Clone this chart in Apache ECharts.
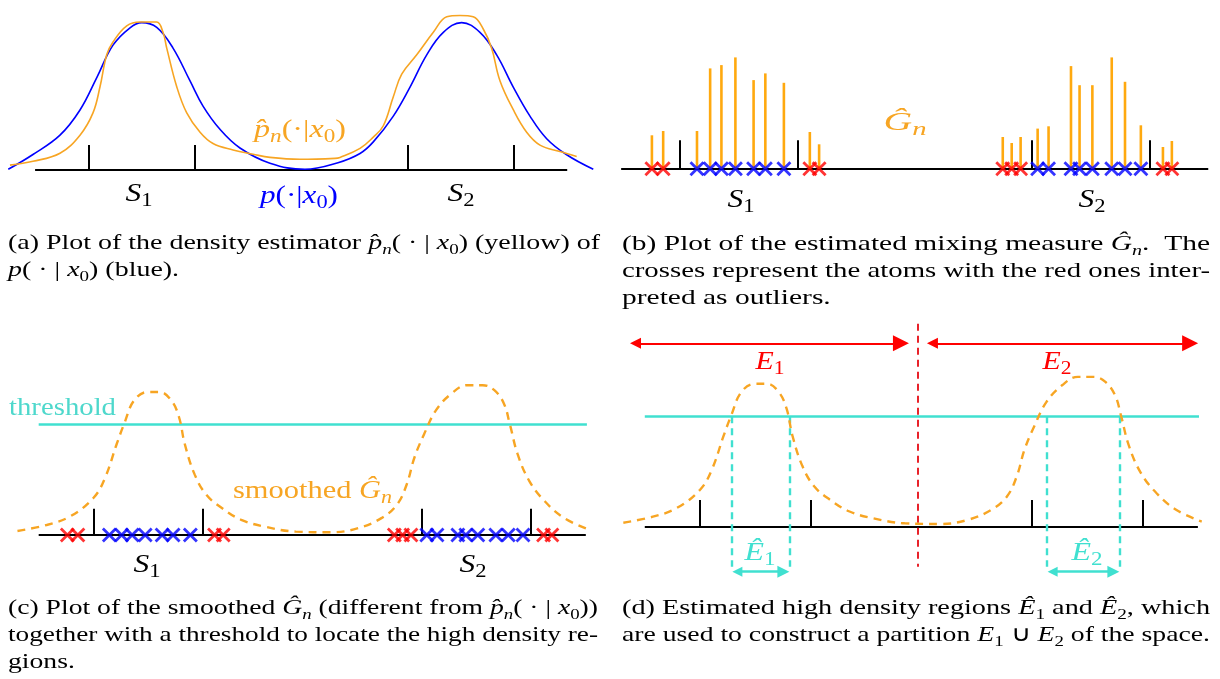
<!DOCTYPE html>
<html><head><meta charset="utf-8">
<script src="https://cdn.jsdelivr.net/npm/echarts@6/dist/echarts.min.js"></script>
<style>html,body{margin:0;padding:0;background:#fff}#c{width:1220px;height:679px}</style>
</head><body><div id="c"></div>
<script>
// ---------------- data (positions u on the line, heights h) ----------------
const tickPositions = [1, 2, 4, 5];
const axisRange = [0.5, 5.5];
// panel (a): true conditional density (blue)
const trueDensity = [[0.248,0],[0.48,15.3],[0.734,35.3],[0.922,61.3],[1.082,95.3],[1.232,128.3],[1.392,146.3],[1.502,151.6],[1.643,146.6],[1.796,125.3],[1.956,91.3],[2.078,65.3],[2.237,41.3],[2.425,22],[2.707,6.3],[3.036,0],[3.346,6.8],[3.553,16.3],[3.678,28.3],[3.866,55],[4.023,85],[4.18,118.3],[4.336,141.6],[4.508,151.6],[4.68,141.6],[4.837,118.3],[4.993,85],[5.15,55],[5.307,31.6],[5.495,15],[5.745,0]];
// panel (a): density estimator (yellow)
const estDensity = [[0.264,4.3],[0.48,8.3],[0.734,16.6],[0.922,35.3],[1.044,58.3],[1.11,85.3],[1.173,118.3],[1.232,131.6],[1.361,148.3],[1.486,152.3],[1.643,152.3],[1.702,141.6],[1.737,125.3],[1.831,85.3],[1.925,58.3],[2.05,38.3],[2.172,26.6],[2.36,20],[2.548,15.6],[2.707,12.3],[2.989,10.3],[3.318,11.3],[3.365,12.3],[3.553,21.6],[3.678,33.3],[3.772,45],[3.866,75],[3.945,98.3],[4.086,118.3],[4.242,141.6],[4.368,157.6],[4.492,159],[4.617,157.6],[4.711,145],[4.79,125],[4.868,91.6],[4.993,61.6],[5.119,38.3],[5.244,25],[5.432,18.3],[5.589,13.3]];
// panel (b)/(c): atoms of the mixing measure
const atomPositions = [0.762,0.858,1.146,1.258,1.354,1.473,1.628,1.728,1.886,2.107,2.186,3.75,3.826,3.902,4.047,4.14,4.331,4.404,4.513,4.678,4.791,4.926,5.114,5.19];
const atomWeights   = [33.5,37.8,37.8,100.4,103.7,111.4,88.7,95.4,86,36.8,24.5,31.8,25.8,31.8,40.2,42.5,102.7,83.6,83.6,111.4,87,43.5,21.8,27.8];
const atomOutlier   = [1,1,0,0,0,0,0,0,0,1,1,1,1,1,0,0,0,0,0,0,0,0,1,1];
// panel (c)/(d): smoothed mixing measure
const smoothedG = [[0.306,4],[0.573,10],[0.786,18.5],[1.0,37],[1.106,57],[1.213,91],[1.284,112],[1.373,134.7],[1.498,143],[1.604,143],[1.711,134.7],[1.782,118],[1.835,91],[1.925,60.6],[2.031,40.4],[2.174,27],[2.351,15.2],[2.565,8.4],[2.849,3.4],[3.169,2.7],[3.419,6.8],[3.632,16.9],[3.774,30.3],[3.863,50.5],[3.934,77.5],[4.023,101],[4.13,124.6],[4.272,141.4],[4.415,149.8],[4.557,149.8],[4.664,144.8],[4.752,131.3],[4.805,111.1],[4.877,80.8],[4.984,53.9],[5.125,33.7],[5.303,16.9],[5.535,5.1]];
const thresholdLevel = 110.5;
const thresholdRange = [0.5, 5.51];
// panel (d)
const highRegions = [[1.283,1.807],[4.133,4.79]];
const partitionSplit = 2.97;
const partitions = [[0.344,2.888],[3.028,5.502]];

// ---------------- layout ----------------
const C = { black:'#000000', blue:'#0000FF', orange:'#F7A523', red:'#FF0000', red2:'#E8222A', teal:'#40E0D0' };
const panels = [
  {u1:88.3,  u5:514,    base:168.3, umin:0.2, umax:5.8, ymin:-30, ymax:175, tick:25},
  {u1:680.3, u5:1153,   base:168.8, umin:0.4, umax:5.6, ymin:-30, ymax:125, tick:28.5},
  {u1:93.4,  u5:531.1,  base:535,   umin:0.2, umax:5.7, ymin:-30, ymax:160, tick:26.3},
  {u1:700.2, u5:1143.2, base:526.7, umin:0.2, umax:5.7, ymin:-60, ymax:215, tick:26.7}
];
const grids=[], xAxes=[], yAxes=[];
panels.forEach(p=>{
  p.s=(p.u5-p.u1)/4;
  grids.push({left:p.u1-(1-p.umin)*p.s, width:(p.umax-p.umin)*p.s, top:p.base-p.ymax, height:p.ymax-p.ymin, containLabel:false});
  xAxes.push({type:'value', min:p.umin, max:p.umax, show:false, gridIndex:grids.length-1});
  yAxes.push({type:'value', min:p.ymin, max:p.ymax, show:false, gridIndex:grids.length-1});
});
const series=[];
function segs(i, list, style, extra){
  series.push(Object.assign({type:'lines', coordinateSystem:'cartesian2d', xAxisIndex:i, yAxisIndex:i, silent:true,
    data:list.map(c=>({coords:c})), lineStyle:Object.assign({opacity:1},style), symbol:'none', animation:false}, extra||{}));
}
function axisLine(i){
  segs(i, [[[axisRange[0],0],[axisRange[1],0]]], {color:C.black,width:2}, {z:3});
  segs(i, tickPositions.map(t=>[[t,0],[t,panels[i].tick]]), {color:C.black,width:2}, {z:3});
}
const CROSS='path://M0,0L10,10M10,0L0,10';
function crosses(i){
  const red=[], blue=[];
  atomPositions.forEach((u,k)=>(atomOutlier[k]?red:blue).push([u,0]));
  [[red,C.red],[blue,C.blue]].forEach(([d,col])=>series.push({type:'scatter', xAxisIndex:i, yAxisIndex:i, data:d, symbol:CROSS, symbolSize:13,
    itemStyle:{color:'rgba(0,0,0,0)', borderColor:col, borderWidth:2.8}, silent:true, z:5, clip:false}));
}
// (a)
axisLine(0);
series.push({type:'line', xAxisIndex:0, yAxisIndex:0, data:trueDensity, smooth:0.4, showSymbol:false, lineStyle:{color:C.blue,width:1.6}, z:4, silent:true});
series.push({type:'line', xAxisIndex:0, yAxisIndex:0, data:estDensity, smooth:0.4, showSymbol:false, lineStyle:{color:C.orange,width:1.6}, z:4, silent:true});
// (b)
axisLine(1);
series.push({type:'bar', xAxisIndex:1, yAxisIndex:1, data:atomPositions.map((u,k)=>[u,atomWeights[k]]), barWidth:2.6, itemStyle:{color:'#FFA90F'}, z:4, silent:true});
crosses(1);
// (c)
axisLine(2);
segs(2, [[[thresholdRange[0],thresholdLevel],[thresholdRange[1],thresholdLevel]]], {color:C.teal,width:2.6}, {z:3});
series.push({type:'line', xAxisIndex:2, yAxisIndex:2, data:smoothedG, smooth:0.4, showSymbol:false, lineStyle:{color:C.orange,width:2.4,type:[8,6]}, z:4, silent:true});
crosses(2);
// (d)
axisLine(3);
segs(3, [[[thresholdRange[0],thresholdLevel],[thresholdRange[1],thresholdLevel]]], {color:C.teal,width:2.6}, {z:3});
series.push({type:'line', xAxisIndex:3, yAxisIndex:3, data:smoothedG, smooth:0.4, showSymbol:false, lineStyle:{color:C.orange,width:2.4,type:[8,6]}, z:4, silent:true});
segs(3, highRegions.flat().map(u=>[[u,thresholdLevel],[u,-40]]), {color:C.teal,width:2.4,type:[7,5]}, {z:3});
segs(3, [[[partitionSplit,203],[partitionSplit,-40]]], {color:C.red2,width:2,type:[7,5]}, {z:3});
const pd=panels[3];
const inR=8/pd.s, inT=6/pd.s;
segs(3, partitions.map(([a,b])=>[[a+inR,183.4],[b-inR,183.4]]), {color:C.red,width:2}, {z:4, symbol:['triangle','triangle'], symbolSize:[11,16]});
segs(3, highRegions.map(([a,b])=>[[a+inT,-45],[b-inT,-45]]), {color:C.teal,width:2.6}, {z:4, symbol:['triangle','triangle'], symbolSize:[10,12]});

// ---------------- text ----------------
const FONT='"Liberation Serif","Times New Roman",serif';
const mctx=document.createElement('canvas').getContext('2d');
function richStyles(fs){
  const sub=Math.round(fs*0.7), lh=Math.round(fs*1.3);
  return {
    r:{fontSize:fs,fontFamily:FONT,fontStyle:'normal',lineHeight:lh,verticalAlign:'middle'},
    i:{fontSize:fs,fontFamily:FONT,fontStyle:'italic',lineHeight:lh,verticalAlign:'middle'},
    s:{fontSize:sub,fontFamily:FONT,fontStyle:'italic',lineHeight:sub,verticalAlign:'bottom'},
    d:{fontSize:sub,fontFamily:FONT,fontStyle:'normal',lineHeight:sub,verticalAlign:'bottom'}
  };
}
function measure(sg,fs){
  const st=richStyles(fs); let w=0;
  sg.forEach(([k,t])=>{const s=st[k]; mctx.font=s.fontStyle+' '+s.fontSize+'px '+FONT; w+=mctx.measureText(t).width;});
  return w;
}
function txt(x,y,sg,fs,color,opt){
  opt=opt||{};
  const w=measure(sg,fs);
  const sx=opt.width?opt.width/w:(opt.scale||1);
  const al=opt.align||'left';
  return {type:'text', x:x, y:y, scaleX:sx, scaleY:1, originX:0, originY:0, silent:true, z:100,
    style:{text:sg.map(([k,t])=>'{'+k+'|'+t+'}').join(''), rich:richStyles(fs), fill:color,
      align:al, textAlign:al, verticalAlign:'middle', textVerticalAlign:'middle'}};
}
const CF=22, LF=25;
const graphics=[];
function para(x, width, ys, lines, justified){
  const first=txt(x,ys[0],lines[0],CF,'#000',{width:width});
  const sc=first.scaleX;
  lines.forEach((ln,k)=>{
    graphics.push(k<justified?txt(x,ys[k],ln,CF,'#000',{width:width}):txt(x,ys[k],ln,CF,'#000',{scale:sc}));
  });
}
const capA=[[['r','(a) Plot of the density estimator '],['i','p̂'],['s','n'],['r','( · | '],['i','x'],['d','0'],['r',') (yellow) of']],
            [['i','p'],['r','( · | '],['i','x'],['d','0'],['r',') (blue).']]];
const capB=[[['r','(b) Plot of the estimated mixing measure '],['i','Ĝ'],['s','n'],['r','.  The']],
            [['r','crosses represent the atoms with the red ones inter-']],
            [['r','preted as outliers.']]];
const capC=[[['r','(c) Plot of the smoothed '],['i','Ĝ'],['s','n'],['r',' (different from '],['i','p̂'],['s','n'],['r','( · | '],['i','x'],['d','0'],['r','))']],
            [['r','together with a threshold to locate the high density re-']],
            [['r','gions.']]];
const capD=[[['r','(d) Estimated high density regions '],['i','Ê'],['d','1'],['r',' and '],['i','Ê'],['d','2'],['r',', which']],
            [['r','are used to construct a partition '],['i','E'],['d','1'],['r',' ∪ '],['i','E'],['d','2'],['r',' of the space.']]];
para(8,592,[243,270],capA,1);
para(622,588,[244,271,298],capB,2);
para(8,590,[608,635,662],capC,2);
para(622,588,[608,635],capD,2);

const S1=[['i','S'],['d','1']], S2=[['i','S'],['d','2']];
const Gn=[['i','Ĝ'],['s','n']];
graphics.push(txt(139,194,S1,LF,'#000',{align:'center',width:27}));
graphics.push(txt(461,194,S2,LF,'#000',{align:'center',width:27}));
graphics.push(txt(300,130,[['i','p̂'],['s','n'],['r','(·|'],['i','x'],['d','0'],['r',')']],LF,C.orange,{align:'center',width:92}));
graphics.push(txt(299,196,[['i','p'],['r','(·|'],['i','x'],['d','0'],['r',')']],LF,C.blue,{align:'center',width:78}));
graphics.push(txt(905,123,Gn,LF,C.orange,{align:'center',width:43}));
graphics.push(txt(741,200,S1,LF,'#000',{align:'center',width:27}));
graphics.push(txt(1092,200,S2,LF,'#000',{align:'center',width:27}));
graphics.push(txt(9,408,[['r','threshold']],26,'#4ED8CC',{width:107}));
graphics.push(txt(233,491,[['r','smoothed '],['i','Ĝ'],['s','n']],LF,C.orange,{width:159}));
graphics.push(txt(147,565,S1,LF,'#000',{align:'center',width:27}));
graphics.push(txt(473,565,S2,LF,'#000',{align:'center',width:27}));
graphics.push(txt(770,362,[['i','E'],['d','1']],LF,C.red,{align:'center',width:29}));
graphics.push(txt(1057,362,[['i','E'],['d','2']],LF,C.red,{align:'center',width:29}));
graphics.push(txt(760,553,[['i','Ê'],['d','1']],LF,C.teal,{align:'center',width:31}));
graphics.push(txt(1087,553,[['i','Ê'],['d','2']],LF,C.teal,{align:'center',width:31}));

const chart=echarts.init(document.getElementById('c'));
chart.setOption({animation:false, backgroundColor:'#fff', grid:grids, xAxis:xAxes, yAxis:yAxes, series:series, graphic:{elements:graphics}});
</script></body></html>
